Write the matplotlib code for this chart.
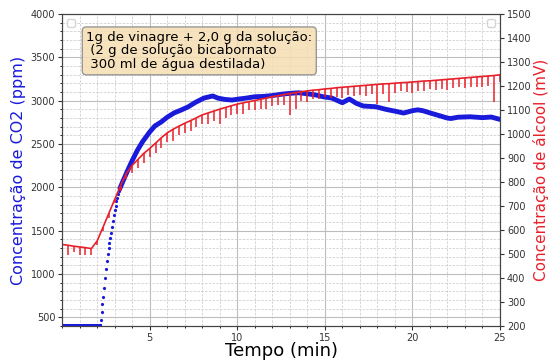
import matplotlib
matplotlib.use("Agg")
import matplotlib.pyplot as plt
from matplotlib.ticker import MultipleLocator
import numpy as np

plt.rcParams.update({
    "font.family": ["DejaVu Sans"],
    "font.size": 7,
    "axes.linewidth": 0.8,
})

# ---------------------------------------------------------------------------
# dados
# ---------------------------------------------------------------------------
# CO2 (ppm): patamar inicial, subida rápida (pontos separados), depois platô
t_co2_flat = [0.0, 0.5, 1.0, 1.5, 2.0, 2.15]
co2_flat = [410, 410, 410, 410, 410, 410]

t_co2_rise = [2.20, 2.25, 2.30, 2.35, 2.40, 2.45, 2.50, 2.55, 2.60, 2.65,
              2.70, 2.75, 2.80, 2.85, 2.90, 2.95, 3.00, 3.05, 3.10, 3.15,
              3.20, 3.25, 3.30]
co2_rise = [470, 560, 650, 740, 840, 950, 1060, 1150, 1230, 1300,
            1360, 1420, 1480, 1540, 1610, 1680, 1740, 1790, 1840, 1880,
            1920, 1960, 1990]

t_co2_plat = [3.3, 3.5, 3.75, 4.0, 4.3, 4.6, 5.0, 5.3, 5.65, 6.0, 6.4, 6.8,
              7.2, 7.6, 8.1, 8.6, 8.9, 9.3, 9.7, 10.1, 10.5, 11.0, 11.5,
              12.0, 12.6, 13.0, 13.5, 14.0, 14.5, 14.9, 15.4, 16.0, 16.4,
              16.8, 17.2, 17.9, 18.5, 19.0, 19.5, 20.0, 20.3, 20.6, 21.0,
              21.5, 22.0, 22.2, 22.6, 23.3, 24.0, 24.5, 25.0]
co2_plat = [1990, 2085, 2200, 2310, 2430, 2530, 2640, 2710, 2754, 2810, 2860,
            2893, 2930, 2980, 3031, 3055, 3030, 3015, 3008, 3020, 3030, 3046,
            3050, 3060, 3077, 3085, 3092, 3080, 3066, 3046, 3031, 2977, 3020,
            2970, 2939, 2931, 2900, 2880, 2858, 2885, 2895, 2885, 2860, 2830,
            2800, 2795, 2810, 2815, 2805, 2812, 2785]

# Álcool (mV): curva base a cada 1/3 min e profundidade dos picos para baixo
t_alc = np.arange(76) / 3.0
alc = [540, 537, 533, 530, 527, 523, 555, 612, 670, 728, 785, 836, 870, 895,
       920, 940, 962, 985, 1005, 1020, 1033, 1045, 1056, 1068, 1080, 1088,
       1096, 1104, 1111, 1118, 1125, 1130, 1135, 1140, 1145, 1150, 1156,
       1160, 1165, 1169, 1173, 1176, 1180, 1183, 1185, 1188, 1190, 1193,
       1195, 1197, 1199, 1201, 1203, 1205, 1207, 1209, 1210, 1212, 1214,
       1215, 1217, 1219, 1221, 1222, 1224, 1226, 1228, 1230, 1232, 1234,
       1236, 1238, 1240, 1242, 1244, 1247]
alc_drop = [30, 40, 25, 35, 30, 25, 15, 15, 20, 15, 20, 25, 30, 35, 40, 35,
            40, 45, 40, 50, 35, 40, 45, 40, 40, 45, 40, 60, 45, 40, 40, 45,
            35, 40, 40, 45, 40, 40, 45, 90, 70, 40, 45, 35, 40, 35, 40, 40,
            45, 35, 40, 40, 45, 40, 80, 40, 75, 40, 35, 40, 45, 40, 40, 35,
            40, 40, 45, 40, 35, 40, 40, 40, 45, 40, 110, 30]

BLUE = "#1a1adb"
RED = "#e8202a"

fig = plt.figure(figsize=(5.5, 3.6), dpi=100)
ax1 = fig.add_axes([0.113, 0.094, 0.796, 0.867])
ax2 = ax1.twinx()

# ---- grade ----
ax1.set_xlim(0, 25)
ax1.set_ylim(400, 4000)
ax1.xaxis.set_major_locator(MultipleLocator(5))
ax1.xaxis.set_minor_locator(MultipleLocator(1))
ax1.yaxis.set_major_locator(MultipleLocator(500))
ax1.yaxis.set_minor_locator(MultipleLocator(100))
ax1.grid(which="major", color="#bdbdbd", lw=0.8)
ax1.grid(which="minor", color="#d0d0d0", lw=0.6, ls=(0, (3, 1.5)))
ax1.set_axisbelow(True)
ax1.set_xticks([5, 10, 15, 20, 25])

# ---- CO2 ----
ax1.plot(t_co2_flat, co2_flat, color=BLUE, lw=2.2, zorder=3)
ax1.plot(t_co2_rise, co2_rise, "o", color=BLUE, ms=2.3, mec="none", zorder=3)
ax1.plot(t_co2_plat, co2_plat, color=BLUE, lw=3.5, zorder=3,
         solid_capstyle="round")

# ---- álcool ----
ax2.set_ylim(200, 1500)
ax2.yaxis.set_major_locator(MultipleLocator(100))
ax2.plot(t_alc, alc, color=RED, lw=1.2)
ax2.vlines(t_alc, np.array(alc) - np.array(alc_drop), alc, color=RED, lw=1.1)

# ---- eixos ----
for ax in (ax1, ax2):
    ax.tick_params(labelsize=7, colors="#333333", length=3, pad=2)
    ax.tick_params(which="minor", length=1.5)
    for sp in ax.spines.values():
        sp.set_color("#444444")

ax1.set_xlabel("Tempo (min)", fontsize=13, labelpad=-1)
ax1.set_ylabel("Concentração de CO2 (ppm)", fontsize=11.5, color=BLUE,
               labelpad=3)
ax2.set_ylabel("Concentração de álcool (mV)", fontsize=11, color=RED,
               labelpad=1)

# legendas vazias (caixinhas nos cantos)
ax1.legend(handles=[], loc="upper left", framealpha=0.8)
ax2.legend(handles=[], loc="upper right", framealpha=0.8)

ax1.text(0.055, 0.946,
         "1g de vinagre + 2,0 g da solução:\n (2 g de solução bicabornato\n"
         " 300 ml de água destilada)",
         transform=ax1.transAxes, fontsize=9.5, va="top", ha="left",
         linespacing=1.05, zorder=10,
         bbox=dict(boxstyle="round,pad=0.3", facecolor="wheat",
                   edgecolor="#888888", alpha=0.85))

fig.savefig("out.png", dpi=100)
